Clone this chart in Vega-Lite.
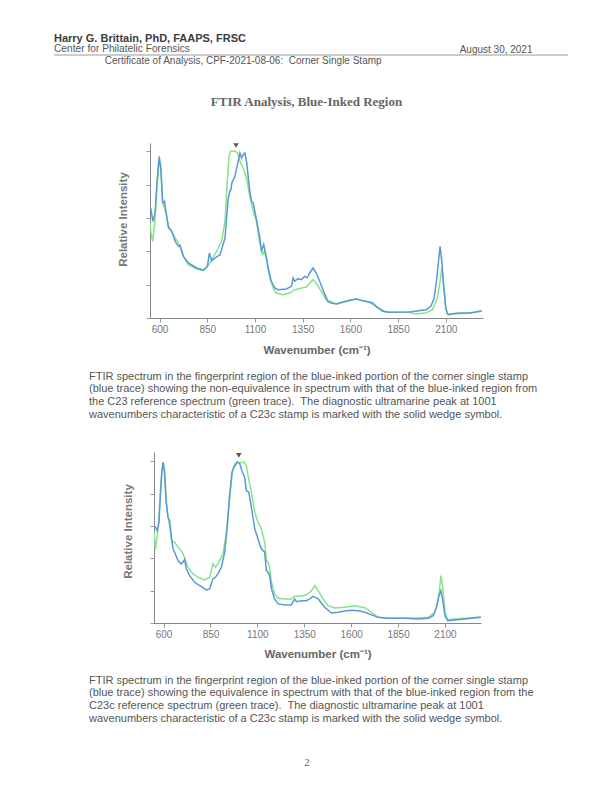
{
  "$schema": "https://vega.github.io/schema/vega-lite/v6.json",
  "background": "white",
  "padding": {"left": 53, "top": 32, "right": 33, "bottom": 3},
  "config": {
    "view": {"stroke": null},
    "font": "Liberation Sans",
    "axis": {"grid": false}
  },
  "datasets": {
    "c1blue": [
      {"wn":550,"val":0.64},{"wn":555,"val":0.65},{"wn":565,"val":0.58},{"wn":577,"val":0.63},{"wn":586,"val":0.80},{"wn":598,"val":0.97},{"wn":607,"val":0.90},{"wn":616,"val":0.70},{"wn":621,"val":0.69},{"wn":626,"val":0.70},{"wn":635,"val":0.63},{"wn":647,"val":0.54},{"wn":664,"val":0.52},{"wn":682,"val":0.46},{"wn":699,"val":0.43},{"wn":708,"val":0.436},{"wn":725,"val":0.37},{"wn":751,"val":0.33},{"wn":795,"val":0.30},{"wn":830,"val":0.288},{"wn":851,"val":0.31},{"wn":861,"val":0.39},{"wn":873,"val":0.344},{"wn":891,"val":0.36},{"wn":917,"val":0.38},{"wn":943,"val":0.48},{"wn":960,"val":0.72},{"wn":969,"val":0.76},{"wn":974,"val":0.77},{"wn":979,"val":0.81},{"wn":995,"val":0.85},{"wn":1012,"val":0.94},{"wn":1021,"val":0.99},{"wn":1030,"val":0.96},{"wn":1039,"val":0.98},{"wn":1047,"val":0.99},{"wn":1056,"val":0.94},{"wn":1073,"val":0.76},{"wn":1082,"val":0.70},{"wn":1091,"val":0.69},{"wn":1108,"val":0.59},{"wn":1126,"val":0.48},{"wn":1134,"val":0.40},{"wn":1146,"val":0.44},{"wn":1157,"val":0.38},{"wn":1169,"val":0.30},{"wn":1186,"val":0.22},{"wn":1204,"val":0.18},{"wn":1221,"val":0.17},{"wn":1265,"val":0.174},{"wn":1291,"val":0.19},{"wn":1300,"val":0.24},{"wn":1308,"val":0.22},{"wn":1326,"val":0.236},{"wn":1343,"val":0.23},{"wn":1360,"val":0.25},{"wn":1373,"val":0.24},{"wn":1387,"val":0.27},{"wn":1404,"val":0.30},{"wn":1421,"val":0.27},{"wn":1439,"val":0.22},{"wn":1456,"val":0.17},{"wn":1482,"val":0.10},{"wn":1500,"val":0.09},{"wn":1526,"val":0.084},{"wn":1561,"val":0.096},{"wn":1595,"val":0.106},{"wn":1630,"val":0.114},{"wn":1665,"val":0.104},{"wn":1700,"val":0.096},{"wn":1717,"val":0.09},{"wn":1735,"val":0.07},{"wn":1769,"val":0.04},{"wn":1804,"val":0.034},{"wn":1909,"val":0.036},{"wn":1996,"val":0.05},{"wn":2022,"val":0.07},{"wn":2039,"val":0.12},{"wn":2051,"val":0.22},{"wn":2062,"val":0.34},{"wn":2070,"val":0.43},{"wn":2079,"val":0.34},{"wn":2088,"val":0.20},{"wn":2100,"val":0.06},{"wn":2109,"val":0.024},{"wn":2117,"val":0.02},{"wn":2135,"val":0.026},{"wn":2170,"val":0.03},{"wn":2222,"val":0.03},{"wn":2257,"val":0.036},{"wn":2288,"val":0.044}
    ],
    "c1green": [
      {"wn":550,"val":0.57},{"wn":555,"val":0.51},{"wn":564,"val":0.46},{"wn":574,"val":0.56},{"wn":586,"val":0.78},{"wn":598,"val":0.95},{"wn":607,"val":0.89},{"wn":616,"val":0.68},{"wn":624,"val":0.67},{"wn":635,"val":0.62},{"wn":647,"val":0.55},{"wn":664,"val":0.52},{"wn":682,"val":0.48},{"wn":699,"val":0.45},{"wn":725,"val":0.37},{"wn":751,"val":0.32},{"wn":795,"val":0.294},{"wn":830,"val":0.284},{"wn":865,"val":0.33},{"wn":899,"val":0.40},{"wn":925,"val":0.46},{"wn":943,"val":0.58},{"wn":955,"val":0.82},{"wn":964,"val":0.97},{"wn":972,"val":1.0},{"wn":995,"val":1.0},{"wn":1009,"val":0.99},{"wn":1021,"val":0.94},{"wn":1038,"val":0.90},{"wn":1056,"val":0.84},{"wn":1073,"val":0.73},{"wn":1091,"val":0.64},{"wn":1108,"val":0.58},{"wn":1125,"val":0.45},{"wn":1139,"val":0.38},{"wn":1148,"val":0.40},{"wn":1160,"val":0.36},{"wn":1178,"val":0.24},{"wn":1195,"val":0.18},{"wn":1212,"val":0.15},{"wn":1247,"val":0.14},{"wn":1282,"val":0.15},{"wn":1308,"val":0.17},{"wn":1343,"val":0.18},{"wn":1369,"val":0.186},{"wn":1387,"val":0.21},{"wn":1404,"val":0.23},{"wn":1421,"val":0.21},{"wn":1447,"val":0.16},{"wn":1473,"val":0.11},{"wn":1526,"val":0.084},{"wn":1595,"val":0.104},{"wn":1630,"val":0.114},{"wn":1700,"val":0.094},{"wn":1734,"val":0.07},{"wn":1787,"val":0.036},{"wn":1908,"val":0.034},{"wn":1943,"val":0.024},{"wn":1995,"val":0.03},{"wn":2030,"val":0.05},{"wn":2056,"val":0.12},{"wn":2070,"val":0.22},{"wn":2079,"val":0.30},{"wn":2088,"val":0.22},{"wn":2100,"val":0.06},{"wn":2109,"val":0.024},{"wn":2135,"val":0.024},{"wn":2222,"val":0.028},{"wn":2288,"val":0.04}
    ],
    "c2blue": [
      {"wn":549,"val":0.603},{"wn":557,"val":0.593},{"wn":566,"val":0.572},{"wn":575,"val":0.614},{"wn":584,"val":0.81},{"wn":591,"val":0.934},{"wn":598,"val":0.996},{"wn":605,"val":0.934},{"wn":614,"val":0.748},{"wn":623,"val":0.655},{"wn":632,"val":0.634},{"wn":641,"val":0.541},{"wn":650,"val":0.459},{"wn":659,"val":0.438},{"wn":677,"val":0.386},{"wn":694,"val":0.366},{"wn":703,"val":0.376},{"wn":712,"val":0.393},{"wn":721,"val":0.335},{"wn":739,"val":0.293},{"wn":765,"val":0.252},{"wn":801,"val":0.225},{"wn":828,"val":0.205},{"wn":846,"val":0.211},{"wn":863,"val":0.273},{"wn":876,"val":0.283},{"wn":890,"val":0.304},{"wn":908,"val":0.345},{"wn":926,"val":0.438},{"wn":940,"val":0.603},{"wn":952,"val":0.789},{"wn":965,"val":0.934},{"wn":975,"val":0.965},{"wn":984,"val":0.979},{"wn":993,"val":0.996},{"wn":1006,"val":0.986},{"wn":1020,"val":0.934},{"wn":1032,"val":0.903},{"wn":1041,"val":0.82},{"wn":1054,"val":0.81},{"wn":1068,"val":0.717},{"wn":1086,"val":0.583},{"wn":1103,"val":0.521},{"wn":1121,"val":0.459},{"wn":1139,"val":0.438},{"wn":1148,"val":0.324},{"wn":1157,"val":0.314},{"wn":1166,"val":0.293},{"wn":1175,"val":0.211},{"wn":1192,"val":0.149},{"wn":1210,"val":0.118},{"wn":1246,"val":0.112},{"wn":1281,"val":0.112},{"wn":1299,"val":0.149},{"wn":1308,"val":0.132},{"wn":1335,"val":0.138},{"wn":1361,"val":0.138},{"wn":1379,"val":0.149},{"wn":1397,"val":0.165},{"wn":1409,"val":0.159},{"wn":1424,"val":0.149},{"wn":1459,"val":0.097},{"wn":1495,"val":0.062},{"wn":1530,"val":0.066},{"wn":1566,"val":0.074},{"wn":1602,"val":0.079},{"wn":1637,"val":0.076},{"wn":1673,"val":0.066},{"wn":1708,"val":0.05},{"wn":1744,"val":0.035},{"wn":1797,"val":0.029},{"wn":1886,"val":0.029},{"wn":1957,"val":0.025},{"wn":2011,"val":0.029},{"wn":2037,"val":0.045},{"wn":2055,"val":0.097},{"wn":2068,"val":0.169},{"wn":2078,"val":0.2},{"wn":2087,"val":0.149},{"wn":2100,"val":0.045},{"wn":2114,"val":0.014},{"wn":2153,"val":0.019},{"wn":2206,"val":0.025},{"wn":2291,"val":0.035}
    ],
    "c2green": [
      {"wn":549,"val":0.562},{"wn":557,"val":0.459},{"wn":566,"val":0.541},{"wn":575,"val":0.645},{"wn":584,"val":0.831},{"wn":591,"val":0.944},{"wn":598,"val":0.996},{"wn":605,"val":0.944},{"wn":614,"val":0.769},{"wn":623,"val":0.665},{"wn":632,"val":0.603},{"wn":641,"val":0.521},{"wn":650,"val":0.5},{"wn":659,"val":0.5},{"wn":677,"val":0.469},{"wn":694,"val":0.448},{"wn":703,"val":0.428},{"wn":712,"val":0.407},{"wn":730,"val":0.345},{"wn":748,"val":0.314},{"wn":783,"val":0.283},{"wn":819,"val":0.267},{"wn":846,"val":0.283},{"wn":863,"val":0.366},{"wn":876,"val":0.345},{"wn":890,"val":0.366},{"wn":917,"val":0.428},{"wn":935,"val":0.562},{"wn":952,"val":0.769},{"wn":965,"val":0.924},{"wn":979,"val":0.986},{"wn":993,"val":0.996},{"wn":1011,"val":0.992},{"wn":1029,"val":0.996},{"wn":1041,"val":0.975},{"wn":1050,"val":0.913},{"wn":1068,"val":0.81},{"wn":1086,"val":0.686},{"wn":1103,"val":0.624},{"wn":1121,"val":0.583},{"wn":1139,"val":0.5},{"wn":1148,"val":0.386},{"wn":1157,"val":0.376},{"wn":1166,"val":0.335},{"wn":1175,"val":0.252},{"wn":1192,"val":0.18},{"wn":1210,"val":0.153},{"wn":1246,"val":0.149},{"wn":1281,"val":0.149},{"wn":1299,"val":0.165},{"wn":1317,"val":0.165},{"wn":1344,"val":0.169},{"wn":1370,"val":0.18},{"wn":1388,"val":0.2},{"wn":1406,"val":0.231},{"wn":1424,"val":0.2},{"wn":1450,"val":0.149},{"wn":1477,"val":0.107},{"wn":1513,"val":0.093},{"wn":1566,"val":0.097},{"wn":1619,"val":0.107},{"wn":1673,"val":0.095},{"wn":1708,"val":0.066},{"wn":1744,"val":0.035},{"wn":1797,"val":0.029},{"wn":1922,"val":0.029},{"wn":2011,"val":0.035},{"wn":2046,"val":0.066},{"wn":2064,"val":0.149},{"wn":2073,"val":0.231},{"wn":2078,"val":0.293},{"wn":2087,"val":0.231},{"wn":2100,"val":0.066},{"wn":2114,"val":0.021},{"wn":2206,"val":0.029},{"wn":2291,"val":0.037}
    ]
  },
  "spacing": 14,
  "vconcat": [
    {
      "width": 514,
      "height": 27,
      "title": {
        "text": "Harry G. Brittain, PhD, FAAPS, FRSC",
        "subtitle": "\u00a0\u00a0\u00a0Center for Philatelic Forensics",
        "anchor": "start",
        "frame": "group",
        "font": "Liberation Sans",
        "fontSize": 11,
        "fontWeight": "bold",
        "color": "#3c3c3c",
        "subtitleFont": "Liberation Sans",
        "subtitleFontSize": 10.2,
        "subtitleColor": "#555555",
        "subtitlePadding": 0.5,
        "offset": -10
      },
      "data": {"values": [{}]},
      "mark": {"type": "rule", "color": "#9a9a9a", "strokeWidth": 1},
      "encoding": {
        "x": {
          "datum": 0,
          "type": "quantitative",
          "scale": {"domain": [0, 1]},
          "axis": {
            "orient": "bottom", "domain": false, "ticks": false, "labels": false, "grid": false,
            "title": "Certificate of Analysis, CPF-2021-08-06:\u00a0 Corner Single Stamp",
            "titleX": 50.3, "titleY": -18.3, "titleAlign": "left", "titleBaseline": "alphabetic",
            "titleFont": "Liberation Sans", "titleFontSize": 10, "titleFontWeight": "normal", "titleColor": "#555555"
          }
        },
        "x2": {"datum": 1},
        "y": {
          "datum": 1,
          "type": "quantitative",
          "scale": {"domain": [0, 1]},
          "axis": {
            "orient": "left", "domain": false, "ticks": false, "labels": false, "grid": false,
            "title": "August 30, 2021",
            "titleAngle": 0, "titleX": 478, "titleY": -2.7, "titleAlign": "right", "titleBaseline": "alphabetic",
            "titleFont": "Liberation Sans", "titleFontSize": 10, "titleFontWeight": "normal", "titleColor": "#555555"
          }
        }
      }
    },
    {
      "hconcat": [
        {"width": 96, "height": 10, "data": {"values": []}, "mark": "point"},
        {
          "width": 333,
          "height": 175,
          "title": {
            "text": "FTIR Analysis, Blue-Inked Region",
            "font": "Liberation Serif", "fontSize": 13, "fontWeight": "bold", "color": "#666666",
            "anchor": "middle", "frame": "group", "dx": -10, "offset": 34
          },
          "encoding": {
            "x": {
              "field": "wn", "type": "quantitative",
              "scale": {"domain": [550, 2295], "nice": false, "zero": false},
              "axis": {
                "values": [600, 850, 1100, 1350, 1600, 1850, 2100], "format": "d",
                "title": "Wavenumber (cm\u207b\u00b9)",
                "titleFont": "Liberation Sans", "titleFontSize": 11.5, "titleFontWeight": "bold", "titleColor": "#666666", "titlePadding": 9.5,
                "labelFont": "Liberation Sans", "labelFontSize": 10, "labelColor": "#777777", "labelPadding": 2.5,
                "labelFlush": false, "labelOverlap": false,
                "tickSize": 4, "tickColor": "#999999", "domainColor": "#888888", "grid": false
              }
            },
            "y": {
              "field": "val", "type": "quantitative",
              "scale": {"domain": [0, 1.05], "nice": false},
              "axis": {
                "values": [0, 0.2, 0.4, 0.6, 0.8, 1], "labels": false,
                "tickSize": 4, "tickColor": "#999999", "domainColor": "#888888", "grid": false,
                "title": "Relative Intensity", "titleFont": "Liberation Sans", "titleFontSize": 11.5, "titleFontWeight": "bold", "titleColor": "#777777",
                "titlePadding": 17, "titleY": 76
              }
            }
          },
          "layer": [
            {"data": {"name": "c1green"}, "mark": {"type": "line", "color": "#86e38c", "strokeWidth": 1.5, "clip": true}},
            {"data": {"name": "c1blue"}, "mark": {"type": "line", "color": "#5b98d6", "strokeWidth": 1.5, "clip": true}},
            {"data": {"values": [{"wn": 1001, "val": 1.035}]}, "mark": {"type": "point", "shape": "triangle-down", "filled": true, "size": 30, "color": "#555555", "opacity": 1}}
          ]
        }
      ],
      "spacing": 0,
      "bounds": "flush"
    },
    {
      "title": {
        "text": [
          "FTIR spectrum in the fingerprint region of the blue-inked portion of the corner single stamp",
          "(blue trace) showing the non-equivalence in spectrum with that of the blue-inked region from",
          "the C23 reference spectrum (green trace).\u00a0 The diagnostic ultramarine peak at 1001",
          "wavenumbers characteristic of a C23c stamp is marked with the solid wedge symbol."
        ],
        "anchor": "start", "frame": "group", "dx": 35, "offset": 32,
        "font": "Liberation Sans", "fontSize": 11, "fontWeight": "normal", "color": "#555555", "lineHeight": 12.8
      },
      "hconcat": [
        {"width": 100, "height": 10, "data": {"values": []}, "mark": "point"},
        {
          "width": 327,
          "height": 171,
          "encoding": {
            "x": {
              "field": "wn", "type": "quantitative",
              "scale": {"domain": [549, 2292], "nice": false, "zero": false},
              "axis": {
                "values": [600, 850, 1100, 1350, 1600, 1850, 2100], "format": "d",
                "title": "Wavenumber (cm\u207b\u00b9)",
                "titleFont": "Liberation Sans", "titleFontSize": 11.5, "titleFontWeight": "bold", "titleColor": "#666666", "titlePadding": 9,
                "labelFont": "Liberation Sans", "labelFontSize": 10, "labelColor": "#777777", "labelPadding": 2,
                "labelFlush": false, "labelOverlap": false,
                "tickSize": 4, "tickColor": "#999999", "domainColor": "#888888", "grid": false
              }
            },
            "y": {
              "field": "val", "type": "quantitative",
              "scale": {"domain": [0, 1.058], "nice": false},
              "axis": {
                "values": [0, 0.2, 0.4, 0.6, 0.8, 1], "labels": false,
                "tickSize": 4, "tickColor": "#999999", "domainColor": "#888888", "grid": false,
                "title": "Relative Intensity", "titleFont": "Liberation Sans", "titleFontSize": 11.5, "titleFontWeight": "bold", "titleColor": "#777777",
                "titlePadding": 16, "titleY": 79
              }
            }
          },
          "layer": [
            {"data": {"name": "c2green"}, "mark": {"type": "line", "color": "#86e38c", "strokeWidth": 1.5, "clip": true}},
            {"data": {"name": "c2blue"}, "mark": {"type": "line", "color": "#5b98d6", "strokeWidth": 1.5, "clip": true}},
            {"data": {"values": [{"wn": 1001, "val": 1.037}]}, "mark": {"type": "point", "shape": "triangle-down", "filled": true, "size": 30, "color": "#555555", "opacity": 1}}
          ]
        }
      ],
      "spacing": 0,
      "bounds": "flush"
    },
    {
      "width": 506,
      "height": 73,
      "title": {
        "text": [
          "FTIR spectrum in the fingerprint region of the blue-inked portion of the corner single stamp",
          "(blue trace) showing the equivalence in spectrum with that of the blue-inked region from the",
          "C23c reference spectrum (green trace).\u00a0 The diagnostic ultramarine peak at 1001",
          "wavenumbers characteristic of a C23c stamp is marked with the solid wedge symbol."
        ],
        "anchor": "start", "frame": "group", "dx": 35, "offset": 2,
        "font": "Liberation Sans", "fontSize": 11, "fontWeight": "normal", "color": "#555555", "lineHeight": 12.8
      },
      "data": {"values": [{"page": "2"}]},
      "mark": {"type": "text", "font": "Liberation Serif", "fontSize": 11, "color": "#666666"},
      "encoding": {"text": {"field": "page"}}
    }
  ]
}
